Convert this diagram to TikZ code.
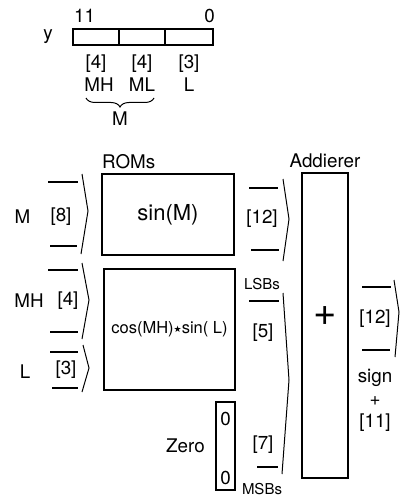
\documentclass[tikz,border=0pt]{standalone}
\usepackage{fontspec}
\setmainfont{TeX Gyre Heros}
\newfontfamily\symfont{DejaVu Sans}
\usetikzlibrary{positioning,decorations.pathreplacing}

\begin{document}
\begin{tikzpicture}[x=1pt,y=-1pt,
  box/.style={draw,line width=1.3pt,inner sep=0pt,outer sep=0pt},
  field/.style={draw,line width=1.1pt,minimum height=16pt,inner sep=0pt,outer sep=0pt},
  lbl/.style={inner sep=0pt,font=\fontsize{18.8}{21}\selectfont},
  tiny/.style={inner sep=0pt,font=\fontsize{15}{17}\selectfont},
  bus/.style={line width=1.1pt},
  brk/.style={line width=1pt}
]
\useasboundingbox (0,0) rectangle (400,497);

% input word y
\node[field,minimum width=46pt] (fmh) at (96,37) {};
\node[field,minimum width=46pt,right=0pt of fmh] (fml) {};
\node[field,minimum width=48pt,right=0pt of fml] (fl) {};
\node[lbl,left=20pt of fmh] (yname) {y};
\node[lbl,above right=6pt and 1pt of fmh.north west] (msb) {11};
\node[lbl,above left=6pt and -2pt of fl.north east] (lsb) {0};
\node[lbl,below=10pt of fmh] (wmh) {[4]};
\node[lbl,below=10pt of fml] (wml) {[4]};
\node[lbl,below=10pt of fl] (wl) {[3]};
\node[lbl,below=5pt of wmh,xshift=3pt] (nmh) {MH};
\node[lbl,below=5pt of wml] (nml) {ML};
\node[lbl,below=5pt of wl] (nl) {L};
\draw[line width=1pt,decorate,decoration={brace,mirror,amplitude=9pt}]
  (86,98) -- (154,98);
\node[lbl] (nm) at (120,119) {M};

% ROMs
\node[box,minimum width=132pt,minimum height=81pt,font=\fontsize{22}{24}\selectfont]
  (sinrom) at (168,214.5) {sin(M)};
\node[box,minimum width=131pt,minimum height=121pt,font=\fontsize{16.5}{18}\selectfont,
  below=14pt of sinrom,xshift=1.5pt] (cosrom)
  {cos(MH)\raisebox{1pt}{\symfont\fontsize{9}{9}\selectfont ★}sin( L)};
\node[lbl,above right=5pt and 0pt of sinrom.north west] (roms) {ROMs};
\node[box,minimum width=19pt,minimum height=88pt] (zero) at (225.5,446) {};
\node[lbl,below=10pt of zero.north] (zt) {0};
\node[lbl,above=5pt of zero.south] (zb) {0};
\node[lbl,left=11pt of zero] (zname) {Zero};

% adder
\node[box,minimum width=46pt,minimum height=305pt] (adder) at (325,325.5) {};
\node[lbl,above=5pt of adder] (addname) {Addierer};
\node[inner sep=0pt,font=\fontsize{40}{42}\selectfont] (plus) at ([yshift=9.5pt]adder.center) {+};

% M bus
\node[lbl] (w8) at (61,217) {[8]};
\node[lbl] (bm) at (22.5,217) {M};
\draw[bus] (48,182) -- (78,182);
\draw[bus] (50,246) -- (77,246);
\draw[brk] (82,174) -- (88,211) -- (81,254);

% MH bus
\node[lbl] (w4) at (68,301) {[4]};
\node[lbl] (bmh) at (29,301) {MH};
\draw[bus] (48,270) -- (78,270);
\draw[bus] (50,332) -- (78,332);
\draw[brk] (82,263) -- (89,300) -- (82,339);

% L bus
\node[lbl] (w3) at (66,370) {[3]};
\node[lbl] (bl) at (25,372) {L};
\draw[bus] (50,352) -- (78,352);
\draw[bus] (52,388) -- (78,388);
\draw[brk] (83,345) -- (89,368) -- (82,392);

% sin(M) output bus
\node[lbl] (w12a) at (262,219) {[12]};
\draw[bus] (249,188) -- (278,188);
\draw[bus] (251,250) -- (279,250);
\draw[brk] (283,179) -- (289,219) -- (283,261);

% product bus, LSBs + MSBs
\node[tiny] (lsbs) at (262,284) {LSBs};
\node[lbl] (w5) at (263,333) {[5]};
\node[lbl] (w7) at (263,445) {[7]};
\node[tiny] (msbs) at (262,489) {MSBs};
\draw[bus] (249,301) -- (279,301);
\draw[bus] (257,467) -- (278,467);
\draw[brk] (283,293) -- (289,380) -- (282,474);

% result bus
\node[lbl] (w12b) at (375,319) {[12]};
\draw[bus] (362,287) -- (391,287);
\draw[bus] (362,350) -- (390,350);
\draw[brk] (394,280) -- (399,312) -- (395,357);
\node[lbl] (sgn) at (375,378) {sign};
\node[lbl] (sgnp) at (375,401) {+};
\node[lbl] (w11) at (375,423) {[11]};
\end{tikzpicture}
\end{document}
